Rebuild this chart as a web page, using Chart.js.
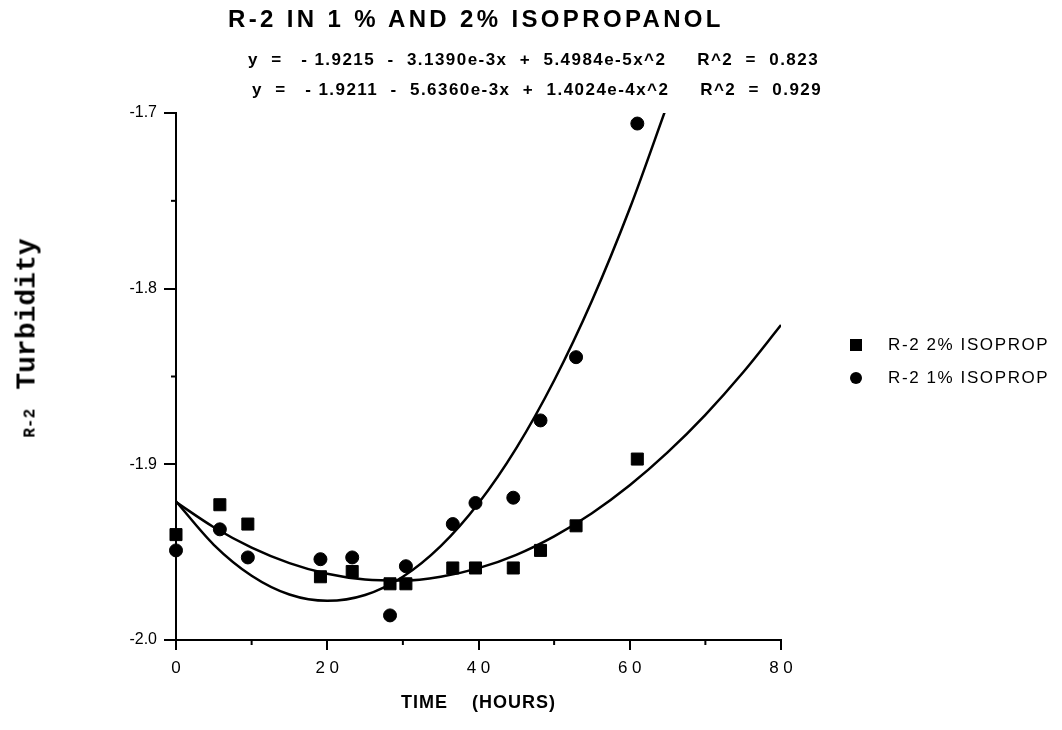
<!DOCTYPE html>
<html lang="en">
<head>
  <meta charset="UTF-8" />
  <title>R-2 in 1% and 2% Isopropanol</title>
  <style>
    body { margin: 0; background: #fff; font-family: 'Liberation Sans', Arial, sans-serif; color: #000; }
    #wrap { position: relative; width: 1062px; height: 730px; }
    canvas { position: absolute; left: 0; top: 0; }
    .txt { position: absolute; white-space: pre; font-weight: bold; }
    #title { left: 228px; top: 5px; font-size: 24px; letter-spacing: 3.35px; }
    .eq { font-size: 17px; letter-spacing: 1.45px; }
    #eq1 { left: 248px; top: 50px; }
    #eq2 { left: 252px; top: 80px; }
    #ytitle { left: 27px; top: 338px; transform: translate(-50%, -50%) rotate(-90deg); font-family: 'Liberation Mono', 'DejaVu Sans Mono', monospace; }
    #ytitle .big { font-size: 28px; }
    #ytitle .small { font-size: 16px; }
    #xtitle { left: 401px; top: 692px; font-size: 18px; letter-spacing: 1px; }
    .leg { position: absolute; left: 850px; font-size: 17px; letter-spacing: 1.6px; white-space: pre; }
    .leg i { display: inline-block; width: 12px; height: 12px; background: #000; margin-right: 26px; vertical-align: -1px; }
    .leg i.c { border-radius: 50%; }
  </style>
</head>
<body>
  <div id="wrap">
    <canvas id="chart" width="1062" height="730"></canvas>
    <div class="txt" id="title">R-2 IN 1 % AND 2% ISOPROPANOL</div>
    <div class="txt eq" id="eq1">y  =   - 1.9215  -  3.1390e-3x  +  5.4984e-5x^2     R^2  =  0.823</div>
    <div class="txt eq" id="eq2">y  =   - 1.9211  -  5.6360e-3x  +  1.4024e-4x^2     R^2  =  0.929</div>
    <div class="txt" id="ytitle"><span class="small">R-2</span>  <span class="big">Turbidity</span></div>
    <div class="txt" id="xtitle">TIME    (HOURS)</div>
    <div class="leg" style="top:335px"><i></i>R-2 2% ISOPROP</div>
    <div class="leg" style="top:368px"><i class="c"></i>R-2 1% ISOPROP</div>
  </div>

  <script src="https://cdn.jsdelivr.net/npm/chart.js"></script>
  <script>
    // sampling times (hours)
    const times = [0, 5.8, 9.5, 19.1, 23.3, 28.3, 30.4, 36.6, 39.6, 44.6, 48.2, 52.9, 61.0];
    const iso2 = [-1.940, -1.923, -1.934, -1.964, -1.961, -1.968, -1.968, -1.959, -1.959, -1.959, -1.949, -1.935, -1.897];
    const iso1 = [-1.949, -1.937, -1.953, -1.954, -1.953, -1.986, -1.958, -1.934, -1.922, -1.919, -1.875, -1.839, -1.706];

    // fitted curves
    const fitX = [0, 5, 10, 15, 20, 25, 30, 35, 40, 45, 50, 55, 60, 65, 70, 75, 80];
    const fit2 = [-1.9215, -1.9358, -1.9474, -1.9562, -1.9623, -1.9656, -1.9662, -1.9640, -1.9591, -1.9515, -1.9410, -1.9278, -1.9119, -1.8932, -1.8718, -1.8476, -1.8207];
    const fit1 = [-1.9211, -1.9458, -1.9634, -1.9741, -1.9777, -1.9744, -1.9640, -1.9466, -1.9222, -1.8908, -1.8523, -1.8069, -1.7544, -1.6949];

    const xTicks = [0, 20, 40, 60, 80];
    const yTicks = [-2.0, -1.9, -1.8, -1.7];

    const pts = (xs, ys) => ys.map((y, i) => ({ x: xs[i], y: y }));

    // short minor ticks (halfway between labelled ticks)
    const minorTicks = {
      id: 'minorTicks',
      afterDraw(chart) {
        const c = chart.ctx, xs = chart.scales.x, ys = chart.scales.y;
        c.save();
        c.strokeStyle = '#000';
        c.lineWidth = 2;
        for (let v = 10; v < 80; v += 20) {
          const px = xs.getPixelForValue(v);
          c.beginPath(); c.moveTo(px, xs.top); c.lineTo(px, xs.top + 5); c.stroke();
        }
        for (let k = 0; k < 3; k++) {
          const py = ys.getPixelForValue(-1.95 + k * 0.1);
          c.beginPath(); c.moveTo(ys.right, py); c.lineTo(ys.right - 5, py); c.stroke();
        }
        c.restore();
      }
    };

    const ctx = document.getElementById('chart').getContext('2d');
    new Chart(ctx, {
      type: 'scatter',
      data: {
        datasets: [
          { label: 'R-2 2% ISOPROP', data: pts(times, iso2), pointStyle: 'rect', pointRadius: 8.5, backgroundColor: '#000', borderColor: '#000', borderWidth: 1, clip: false },
          { label: 'R-2 1% ISOPROP', data: pts(times, iso1), pointStyle: 'circle', pointRadius: 6.5, backgroundColor: '#000', borderColor: '#000', borderWidth: 1, clip: false },
          { label: 'fit 2%', data: pts(fitX, fit2), showLine: true, pointRadius: 0, borderColor: '#000', borderWidth: 2.5, cubicInterpolationMode: 'monotone' },
          { label: 'fit 1%', data: pts(fitX, fit1), showLine: true, pointRadius: 0, borderColor: '#000', borderWidth: 2.5, cubicInterpolationMode: 'monotone' }
        ]
      },
      options: {
        responsive: false,
        animation: false,
        layout: { padding: { top: 113, right: 281, bottom: 0, left: 0 } },
        plugins: { legend: { display: false }, tooltip: { enabled: false } },
        scales: {
          x: {
            type: 'linear', min: 0, max: 80,
            afterFit: s => { s.height = 90; },
            afterBuildTicks: s => { s.ticks = xTicks.map(v => ({ value: v })); },
            ticks: { color: '#000', font: { family: 'Liberation Sans', size: 17 }, padding: 8, callback: v => String(v).split('').join(' ') },
            grid: { drawOnChartArea: false, color: '#000', tickLength: 10, lineWidth: 2 },
            border: { color: '#000', width: 2 }
          },
          y: {
            type: 'linear', min: -2.0, max: -1.7,
            afterFit: s => { s.width = 176; },
            afterBuildTicks: s => { s.ticks = yTicks.map(v => ({ value: v })); },
            ticks: { color: '#000', font: { family: 'Liberation Sans', size: 16 }, padding: 7, callback: v => v.toFixed(1) },
            grid: { drawOnChartArea: false, color: '#000', tickLength: 12, lineWidth: 2 },
            border: { color: '#000', width: 2 }
          }
        }
      },
      plugins: [minorTicks]
    });
  </script>
</body>
</html>
